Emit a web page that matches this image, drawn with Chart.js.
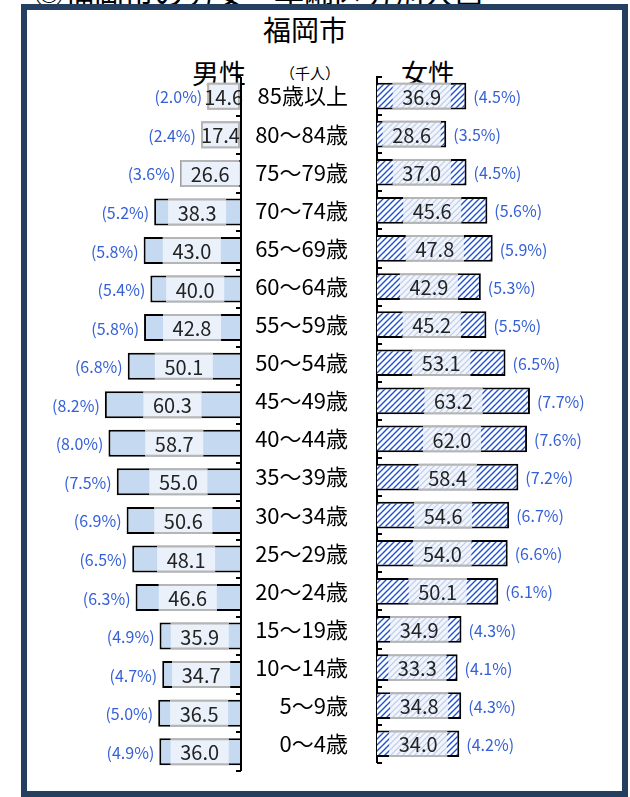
<!DOCTYPE html>
<html>
<head>
<meta charset="utf-8">
<script src="https://cdn.jsdelivr.net/npm/chart.js@4"></script>
<style>
body{margin:0;width:630px;height:797px;overflow:hidden;background:#fff;position:relative;font-family:"Noto Sans CJK JP",sans-serif}
#head{position:absolute;left:34px;top:-23px;font-size:30px;line-height:1;white-space:nowrap;color:#000}
#frame{position:absolute;left:21px;top:4px;width:595px;height:781px;border:6px solid #243f60;background:#fff}
.t{position:absolute;white-space:nowrap;color:#000;line-height:1;transform:translate(-50%,-50%)}
canvas{position:absolute;left:0;top:0}
</style>
</head>
<body>
<div id="head">◎福岡市の男女・年齢区分別人口</div>
<div id="frame"></div>
<div class="t" style="left:305px;top:29px;font-size:28px">福岡市</div>
<div class="t" style="left:219px;top:72px;font-size:27px">男性</div>
<div class="t" style="left:310px;top:72px;font-size:15px">（千人）</div>
<div class="t" style="left:428px;top:72px;font-size:27px">女性</div>
<canvas id="maleChart" width="630" height="797"></canvas>
<canvas id="femaleChart" width="630" height="797"></canvas>
<script>
const ages = ['85歳以上', '80～84歳', '75～79歳', '70～74歳', '65～69歳', '60～64歳', '55～59歳', '50～54歳', '45～49歳',
    '40～44歳', '35～39歳', '30～34歳', '25～29歳', '20～24歳', '15～19歳', '10～14歳', '5～9歳', '0～4歳'];
const male = [14.6, 17.4, 26.6, 38.3, 43.0, 40.0, 42.8, 50.1, 60.3, 58.7, 55.0, 50.6, 48.1, 46.6, 35.9, 34.7, 36.5, 36.0];
const malePct = ['2.0', '2.4', '3.6', '5.2', '5.8', '5.4', '5.8', '6.8', '8.2', '8.0', '7.5', '6.9', '6.5', '6.3', '4.9', '4.7', '5.0', '4.9'];
const female = [36.9, 28.6, 37.0, 45.6, 47.8, 42.9, 45.2, 53.1, 63.2, 62.0, 58.4, 54.6, 54.0, 50.1, 34.9, 33.3, 34.8, 34.0];
const femalePct = ['4.5', '3.5', '4.5', '5.6', '5.9', '5.3', '5.5', '6.5', '7.7', '7.6', '7.2', '6.7', '6.6', '6.1', '4.3', '4.1', '4.3', '4.2'];

Chart.defaults.font.family = '"Noto Sans CJK JP", sans-serif';

// diagonal hatch used for the female bars
function makeHatch(bg, fg, lw) {
    const c = document.createElement('canvas');
    c.width = 6; c.height = 6;
    const g = c.getContext('2d');
    g.fillStyle = bg;
    g.fillRect(0, 0, 6, 6);
    g.strokeStyle = fg;
    g.lineWidth = lw;
    g.beginPath();
    g.moveTo(0, 6); g.lineTo(6, 0);
    g.moveTo(-1, 1); g.lineTo(1, -1);
    g.moveTo(5, 7); g.lineTo(7, 5);
    g.stroke();
    return g.createPattern(c, 'repeat');
}
const femaleHatch = makeHatch('#ffffff', '#1f4ed8', 1.4);
const labelHatch = makeHatch('#f1f5fc', '#bccbee', 1.2);

// axis line + inward tick marks at the category boundaries
function axisMarks(isMale) {
    return {
        id: 'axisMarks',
        afterDraw(chart) {
            const ctx = chart.ctx, y = chart.scales.y, a = chart.chartArea;
            const band = y.getPixelForValue(1) - y.getPixelForValue(0);
            const x0 = isMale ? a.right + 1 : a.left;
            ctx.save();
            ctx.strokeStyle = '#000';
            ctx.lineWidth = 2;
            ctx.beginPath();
            if (isMale) {
                ctx.moveTo(x0, a.top);
                ctx.lineTo(x0, a.bottom);
            }
            for (let i = 0; i <= ages.length; i++) {
                const py = Math.round(y.getPixelForValue(i) - band / 2);
                ctx.moveTo(x0, py);
                ctx.lineTo(isMale ? x0 - 5 : x0 + 5, py);
            }
            ctx.stroke();
            ctx.restore();
        }
    };
}

// value box in the middle of each bar and the share in brackets outside it
function barLabels(isMale, vals, pcts) {
    return {
        id: 'barLabels',
        afterDatasetsDraw(chart) {
            const ctx = chart.ctx;
            chart.getDatasetMeta(0).data.forEach((bar, i) => {
                const l = Math.min(bar.x, bar.base), r = Math.max(bar.x, bar.base);
                const h = bar.height, top = bar.y - h / 2;
                const w = r - l, cx = (l + r) / 2;
                const bw = Math.min(58, w);
                ctx.save();
                ctx.fillStyle = isMale ? '#eaf1fa' : labelHatch;
                ctx.fillRect(cx - bw / 2, top, bw, h);
                ctx.strokeStyle = '#b5b5b5';
                ctx.lineWidth = 2;
                if (bw >= w) {
                    ctx.strokeRect(cx - bw / 2 + 1, top + 1, bw - 2, h - 2);
                } else {
                    ctx.beginPath();
                    ctx.moveTo(cx - bw / 2, top + 1); ctx.lineTo(cx + bw / 2, top + 1);
                    ctx.moveTo(cx - bw / 2, top + h - 1); ctx.lineTo(cx + bw / 2, top + h - 1);
                    ctx.stroke();
                }
                ctx.fillStyle = '#222';
                ctx.font = '20px "Noto Sans CJK JP"';
                ctx.textAlign = 'center';
                ctx.textBaseline = 'middle';
                ctx.fillText(vals[i].toFixed(1), cx, bar.y + 1);
                ctx.fillStyle = '#3560d8';
                ctx.font = '16px "Noto Sans CJK JP"';
                ctx.textAlign = isMale ? 'right' : 'left';
                ctx.fillText('(' + pcts[i] + '%)', isMale ? l - 5 : r + 7, bar.y + 1);
                ctx.restore();
            });
        }
    };
}

const maleChart = new Chart(document.getElementById('maleChart'), {
    type: 'bar',
    data: {
        labels: ages,
        datasets: [{
            data: male,
            backgroundColor: '#c5d9f1',
            borderColor: '#000',
            borderWidth: 2,
            barPercentage: 0.7,
            categoryPercentage: 1
        }]
    },
    options: {
        indexAxis: 'y',
        responsive: false,
        animation: false,
        layout: { padding: { left: 28, right: 390, top: 77, bottom: 26 } },
        plugins: { legend: { display: false }, tooltip: { enabled: false } },
        scales: {
            x: { display: false, reverse: true, min: 0, max: 94.6 },
            y: { display: false }
        }
    },
    plugins: [barLabels(true, male, malePct), axisMarks(true)]
});

const femaleChart = new Chart(document.getElementById('femaleChart'), {
    type: 'bar',
    data: {
        labels: ages,
        datasets: [{
            data: female,
            backgroundColor: femaleHatch,
            borderColor: '#000',
            borderWidth: 2,
            barPercentage: 0.7,
            categoryPercentage: 1
        }]
    },
    options: {
        indexAxis: 'y',
        responsive: false,
        animation: false,
        layout: { padding: { left: 250, right: 10, top: 77, bottom: 26 } },
        plugins: { legend: { display: false }, tooltip: { enabled: false } },
        scales: {
            x: { display: false, min: 0, max: 100.4 },
            y: {
                position: 'left',
                afterFit: scale => { scale.width = 127; },
                grid: { display: false },
                border: { display: true, color: '#000', width: 2 },
                ticks: { color: '#000', padding: 21, font: { size: 22 } }
            }
        }
    },
    plugins: [barLabels(false, female, femalePct), axisMarks(false)]
});
</script>
</body>
</html>
